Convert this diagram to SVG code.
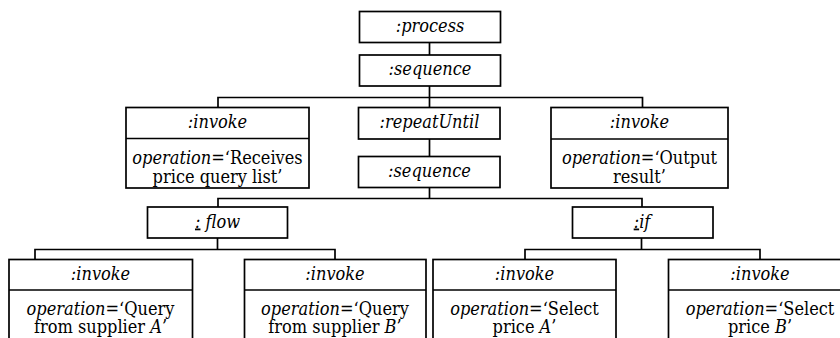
<svg xmlns="http://www.w3.org/2000/svg" width="840" height="338" viewBox="0 0 840 338">
<style>
rect{fill:#fff;stroke:#000;stroke-width:1.7}
line,path{stroke:#000;stroke-width:1.7;fill:none}
text{font-family:'DejaVu Serif Condensed','DejaVu Serif',serif;font-stretch:condensed;font-size:18px;fill:#000;text-anchor:middle}
.i{font-style:italic}
.u{text-decoration:underline}
</style>
<rect x="0" y="0" width="840" height="338" style="fill:#fff;stroke:none"/>
<g id="connectors">
<line x1="429.5" y1="42.5" x2="429.5" y2="55"/>
<path d="M429.5 86V97.5M218 107.5V97.5H642.5V107.5M429.5 97.5V107.5"/>
<line x1="429.5" y1="139" x2="429.5" y2="156.5"/>
<path d="M429.5 187.5V198.5M218 207V198.5H642V207"/>
<path d="M217.5 238V249.5M35 259.5V249.5H335V259.5"/>
<path d="M641.5 238V249.5M525 259.5V249.5H760V259.5"/>
</g>
<g id="process">
<rect x="359.5" y="11.5" width="141" height="31"/>
<text x="430" y="32" class="i">:process</text>
</g>
<g id="sequence1">
<rect x="359.5" y="55" width="141" height="31"/>
<text x="430" y="75" class="i">:sequence</text>
</g>
<g id="invoke-receive">
<rect x="126" y="107.5" width="183" height="80.5"/>
<line x1="126" y1="138.5" x2="309" y2="138.5"/>
<text x="217.5" y="128" class="i">:invoke</text>
<text x="217.5" y="164"><tspan class="i">operation</tspan>=‘Receives</text>
<text x="217.5" y="182.5">price query list’</text>
</g>
<g id="repeatUntil">
<rect x="358.5" y="107.5" width="141.5" height="31.5"/>
<text x="429.5" y="128" class="i">:repeatUntil</text>
</g>
<g id="sequence2">
<rect x="358.5" y="156.5" width="141.5" height="31"/>
<text x="429.5" y="177" class="i">:sequence</text>
</g>
<g id="invoke-output">
<rect x="551" y="107.5" width="177" height="80.5"/>
<line x1="551" y1="139" x2="728" y2="139"/>
<text x="639.5" y="128" class="i">:invoke</text>
<text x="639.5" y="164"><tspan class="i">operation</tspan>=‘Output</text>
<text x="639.5" y="182.5">result’</text>
</g>
<g id="flow">
<rect x="147.5" y="207" width="140" height="31"/>
<text x="217.5" y="227.5" class="i"><tspan class="u">:</tspan> flow</text>
</g>
<g id="if">
<rect x="572.5" y="207" width="140.5" height="31"/>
<text x="642" y="227.5" class="i"><tspan class="u">:</tspan>if</text>
</g>
<g id="invoke-queryA">
<rect x="9" y="259.5" width="183.5" height="90"/>
<line x1="9" y1="290" x2="192.5" y2="290"/>
<text x="100.5" y="279.5" class="i">:invoke</text>
<text x="100.5" y="315"><tspan class="i">operation</tspan>=‘Query</text>
<text x="100.5" y="333">from supplier <tspan class="i">A</tspan>’</text>
</g>
<g id="invoke-queryB">
<rect x="244.5" y="259.5" width="181.5" height="90"/>
<line x1="244.5" y1="290" x2="426" y2="290"/>
<text x="335" y="279.5" class="i">:invoke</text>
<text x="335" y="315"><tspan class="i">operation</tspan>=‘Query</text>
<text x="335" y="333">from supplier <tspan class="i">B</tspan>’</text>
</g>
<g id="invoke-selectA">
<rect x="433" y="259.5" width="183" height="90"/>
<line x1="433" y1="290" x2="616" y2="290"/>
<text x="524.5" y="279.5" class="i">:invoke</text>
<text x="524.5" y="315"><tspan class="i">operation</tspan>=‘Select</text>
<text x="524.5" y="333">price <tspan class="i">A</tspan>’</text>
</g>
<g id="invoke-selectB">
<rect x="668.5" y="259.5" width="190" height="90"/>
<line x1="668.5" y1="290" x2="858.5" y2="290"/>
<text x="760" y="279.5" class="i">:invoke</text>
<text x="760" y="315"><tspan class="i">operation</tspan>=‘Select</text>
<text x="760" y="333">price <tspan class="i">B</tspan>’</text>
</g>
</svg>
